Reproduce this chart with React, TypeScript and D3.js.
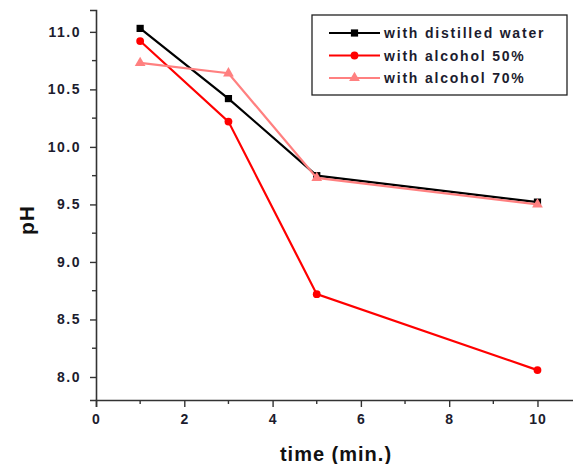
import React, { useEffect, useRef } from 'react'
import * as d3 from 'd3'

const times = [1, 3, 5, 10]
const distilledWater = [11.03, 10.42, 9.75, 9.52]
const alcohol50 = [10.92, 10.22, 8.72, 8.06]
const alcohol70 = [10.73, 10.64, 9.73, 9.5]
const seriesNames = ['with distilled water', 'with alcohol 50%', 'with alcohol 70%']
const xTicks = [0, 2, 4, 6, 8, 10]
const yTicks = [8.0, 8.5, 9.0, 9.5, 10.0, 10.5, 11.0]

const W = 573
const H = 464

const App = () => {
  const ref = useRef<SVGSVGElement>(null)

  useEffect(() => {
    const root = d3.select(ref.current)
    root.selectAll('*').remove()

    const x = d3.scaleLinear().domain([0, 10.85]).range([96, 575])
    const y = d3.scaleLinear().domain([7.8, 11.19]).range([400, 10])

    const series = [
      { name: seriesNames[0], values: distilledWater, color: '#000000', shape: 'square' },
      { name: seriesNames[1], values: alcohol50, color: '#ff0000', shape: 'circle' },
      { name: seriesNames[2], values: alcohol70, color: '#ff8080', shape: 'triangle' },
    ]

    const symbolFor = (shape: string) =>
      shape === 'square' ? d3.symbolSquare : shape === 'circle' ? d3.symbolCircle : d3.symbolTriangle
    const sizeFor = (shape: string) => (shape === 'square' ? 52 : shape === 'circle' ? 48 : 50)

    const textColor = '#1c1c2e'
    const font = 'Arial, "Liberation Sans", sans-serif'

    // y axis
    const yAxis = root.append('g').attr('transform', `translate(${x(0)},0)`)
    yAxis
      .call(d3.axisLeft(y).tickValues(yTicks).tickSize(6).tickFormat(d3.format('.1f')))
      .call(g => g.select('.domain').attr('stroke', '#333').attr('stroke-width', 1.6))
      .call(g => g.selectAll('.tick line').attr('stroke', '#333').attr('stroke-width', 1.4))
      .call(g =>
        g
          .selectAll('.tick text')
          .attr('x', -15)
          .attr('font-family', font)
          .attr('font-weight', 'bold')
          .attr('font-size', 14)
          .attr('letter-spacing', 1.5)
          .attr('fill', textColor),
      )
    yAxis
      .selectAll('.minor')
      .data(yTicks.map(v => v + 0.25).filter(v => v < 11.19))
      .join('line')
      .attr('x1', -4)
      .attr('x2', 0)
      .attr('y1', d => y(d))
      .attr('y2', d => y(d))
      .attr('stroke', '#333')
      .attr('stroke-width', 1.4)

    // x axis
    const xAxis = root.append('g').attr('transform', `translate(0,${y(7.8)})`)
    xAxis
      .call(d3.axisBottom(x).tickValues(xTicks).tickSize(7).tickFormat(d3.format('d')))
      .call(g => g.select('.domain').attr('stroke', '#333').attr('stroke-width', 1.6))
      .call(g => g.selectAll('.tick line').attr('stroke', '#333').attr('stroke-width', 1.4))
      .call(g =>
        g
          .selectAll('.tick text')
          .attr('y', 14)
          .attr('font-family', font)
          .attr('font-weight', 'bold')
          .attr('font-size', 14)
          .attr('letter-spacing', 1)
          .attr('fill', textColor),
      )
    xAxis
      .selectAll('.minor')
      .data([1, 3, 5, 7, 9])
      .join('line')
      .attr('x1', d => x(d))
      .attr('x2', d => x(d))
      .attr('y1', 0)
      .attr('y2', 4)
      .attr('stroke', '#333')
      .attr('stroke-width', 1.4)

    // axis titles
    root
      .append('text')
      .attr('x', 336)
      .attr('y', 461)
      .attr('text-anchor', 'middle')
      .attr('font-family', font)
      .attr('font-weight', 'bold')
      .attr('font-size', 20)
      .attr('letter-spacing', 1)
      .attr('fill', '#111')
      .text('time (min.)')
    root
      .append('text')
      .attr('transform', `translate(34,220) rotate(-90)`)
      .attr('text-anchor', 'middle')
      .attr('font-family', font)
      .attr('font-weight', 'bold')
      .attr('font-size', 21)
      .attr('letter-spacing', 1)
      .attr('fill', '#111')
      .text('pH')

    // lines and markers
    const line = d3
      .line<number>()
      .x((_, i) => x(times[i]))
      .y(d => y(d))

    series.forEach(s => {
      const g = root.append('g')
      g.append('path')
        .attr('d', line(s.values))
        .attr('fill', 'none')
        .attr('stroke', s.color)
        .attr('stroke-width', 2.2)
      g.selectAll('path.pt')
        .data(s.values)
        .join('path')
        .attr('class', 'pt')
        .attr('transform', (d, i) => `translate(${x(times[i])},${y(d)})`)
        .attr('d', d3.symbol().type(symbolFor(s.shape)).size(sizeFor(s.shape))())
        .attr('fill', s.color)
    })

    // legend
    const lg = root.append('g')
    lg.append('rect')
      .attr('x', 312)
      .attr('y', 15)
      .attr('width', 255)
      .attr('height', 80)
      .attr('fill', 'white')
      .attr('stroke', '#222')
      .attr('stroke-width', 1.3)
    series.forEach((s, i) => {
      const cy = 33 + i * 22.5
      lg.append('line')
        .attr('x1', 329)
        .attr('x2', 380)
        .attr('y1', cy)
        .attr('y2', cy)
        .attr('stroke', s.color)
        .attr('stroke-width', 2.2)
      lg.append('path')
        .attr('transform', `translate(354.5,${cy})`)
        .attr('d', d3.symbol().type(symbolFor(s.shape)).size(sizeFor(s.shape))())
        .attr('fill', s.color)
      lg.append('text')
        .attr('x', 384)
        .attr('y', cy + 5)
        .attr('font-family', font)
        .attr('font-weight', 'bold')
        .attr('font-size', 14)
        .attr('letter-spacing', 1.8)
        .attr('fill', textColor)
        .text(s.name)
    })
  }, [])

  return <svg width={W} height={H} ref={ref} style={{ position: 'absolute', left: 0, top: 0 }} />
}

export default App
